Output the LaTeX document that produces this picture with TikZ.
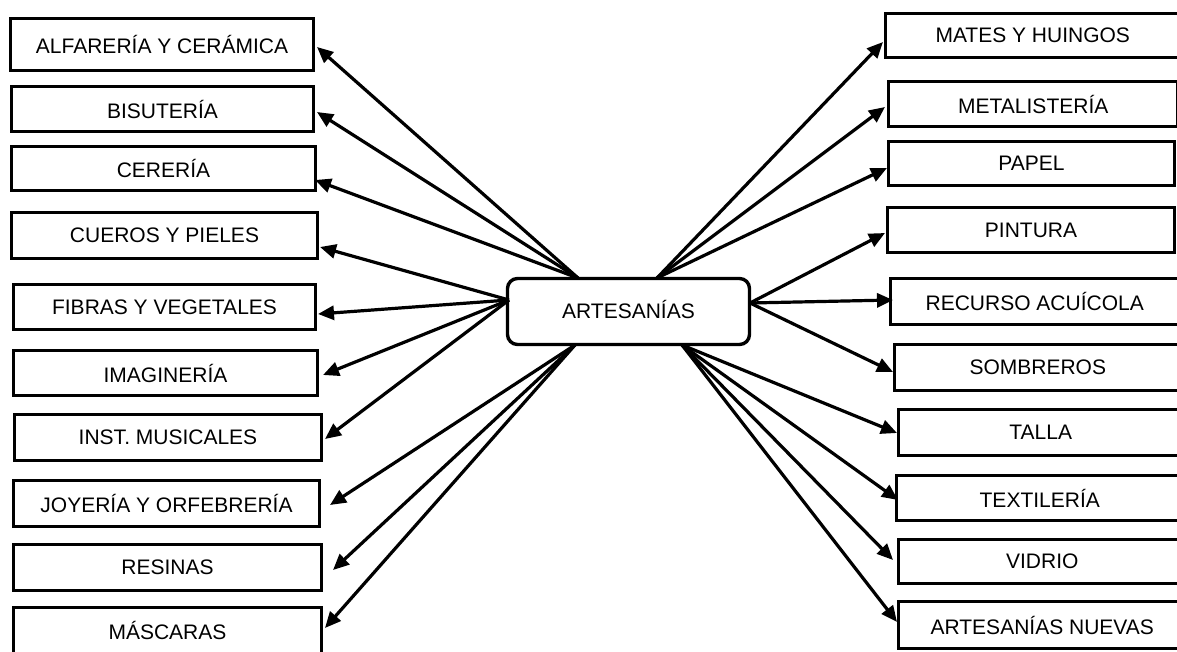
\documentclass[tikz,border=0pt]{standalone}
\usepackage{fontspec}
\setmainfont{Liberation Sans}
\usetikzlibrary{arrows.meta}
\begin{document}
\begin{tikzpicture}[x=1pt,y=-1pt,
  box/.style={draw,line width=3.4pt,rectangle,inner sep=0pt,fill=white,
    font=\fontsize{21}{25}\selectfont},
  hub/.style={draw,line width=3.4pt,rectangle,rounded corners=10pt,inner sep=0pt,fill=white,
    font=\fontsize{21}{25}\selectfont},
  conn/.style={line width=3.2pt,-{Triangle[length=16pt,width=14pt]}}]
\useasboundingbox (0,0) rectangle (1177,652);
\clip (0,0) rectangle (1177,652);
% left boxes
\node[box,minimum width=303pt,minimum height=52pt] (alf) at (162,44.5) {ALFARERÍA Y CERÁMICA};
\node[box,minimum width=302pt,minimum height=45pt] (bis) at (162.5,109) {BISUTERÍA};
\node[box,minimum width=304pt,minimum height=44pt] (cer) at (163.5,168.5) {CERERÍA};
\node[box,minimum width=306pt,minimum height=46pt] (cue) at (164.5,235.5) {CUEROS Y PIELES};
\node[box,minimum width=302pt,minimum height=45pt] (fib) at (164.5,307) {FIBRAS Y VEGETALES};
\node[box,minimum width=304pt,minimum height=45pt] (ima) at (165.5,373) {IMAGINERÍA};
\node[box,minimum width=307pt,minimum height=46pt] (ins) at (168,437.5) {INST. MUSICALES};
\node[box,minimum width=306pt,minimum height=46pt] (joy) at (166.5,503.5) {JOYERÍA Y ORFEBRERÍA};
\node[box,minimum width=308pt,minimum height=46pt] (res) at (167.5,567.5) {RESINAS};
\node[box,minimum width=308pt,minimum height=46pt] (mas) at (167.5,630.5) {MÁSCARAS};
% right boxes
\node[box,minimum width=294.5pt,minimum height=44pt] (mat) at (1032.75,35.5) {MATES Y HUINGOS};
\node[box,minimum width=289.5pt,minimum height=45pt] (met) at (1033.25,104) {METALISTERÍA};
\node[box,minimum width=286pt,minimum height=44pt] (pap) at (1031.5,163.5) {PAPEL};
\node[box,minimum width=287pt,minimum height=45pt] (pin) at (1031,230) {PINTURA};
\node[box,minimum width=288.5pt,minimum height=46pt] (rec) at (1034.75,301.5) {RECURSO ACUÍCOLA};
\node[box,minimum width=286.5pt,minimum height=46pt] (som) at (1037.75,367.5) {SOMBREROS};
\node[box,minimum width=284.5pt,minimum height=46pt] (tal) at (1040.75,432.5) {TALLA};
\node[box,minimum width=286.5pt,minimum height=45pt] (tex) at (1039.75,498) {TEXTILERÍA};
\node[box,minimum width=287.5pt,minimum height=44pt] (vid) at (1042.25,561.5) {VIDRIO};
\node[box,minimum width=287.5pt,minimum height=47pt] (art) at (1042.25,625) {ARTESANÍAS NUEVAS};
% hub
\node[hub,minimum width=242pt,minimum height=66pt] (hub) at (628.5,311.5) {};
\node[font=\fontsize{21}{25}\selectfont,inner sep=0pt] (hubtext) at (628.5,309) {ARTESANÍAS};
% origins on hub
\coordinate (tl) at (578,278);
\coordinate (tr) at (657,278);
\coordinate (bl) at (575,345);
\coordinate (br) at (682,345);
\coordinate (lo) at (509,300);
\coordinate (ro) at (750,303);
% tips
\coordinate (alf-t) at (317,47);
\coordinate (bis-t) at (317,112);
\coordinate (cer-t) at (315,180);
\coordinate (cue-t) at (320,247);
\coordinate (fib-t) at (318,314);
\coordinate (ima-t) at (323,375);
\coordinate (ins-t) at (325,439);
\coordinate (joy-t) at (330,505);
\coordinate (res-t) at (333,570);
\coordinate (mas-t) at (325,628);
\coordinate (mat-t) at (883,42);
\coordinate (met-t) at (885,107);
\coordinate (pap-t) at (887,168);
\coordinate (pin-t) at (885,233);
\coordinate (rec-t) at (893,300);
\coordinate (som-t) at (893,372);
\coordinate (tal-t) at (897,433);
\coordinate (tex-t) at (898,500);
\coordinate (vid-t) at (893,560);
\coordinate (art-t) at (897,622);
% connectors
\draw[conn] (tl) -- (alf-t);
\draw[conn] (tl) -- (bis-t);
\draw[conn] (tl) -- (cer-t);
\draw[conn] (lo) -- (cue-t);
\draw[conn] (lo) -- (fib-t);
\draw[conn] (lo) -- (ima-t);
\draw[conn] (lo) -- (ins-t);
\draw[conn] (bl) -- (joy-t);
\draw[conn] (bl) -- (res-t);
\draw[conn] (bl) -- (mas-t);
\draw[conn] (tr) -- (mat-t);
\draw[conn] (tr) -- (met-t);
\draw[conn] (tr) -- (pap-t);
\draw[conn] (ro) -- (pin-t);
\draw[conn] (ro) -- (rec-t);
\draw[conn] (ro) -- (som-t);
\draw[conn] (br) -- (tal-t);
\draw[conn] (br) -- (tex-t);
\draw[conn] (br) -- (vid-t);
\draw[conn] (br) -- (art-t);
\end{tikzpicture}
\end{document}
